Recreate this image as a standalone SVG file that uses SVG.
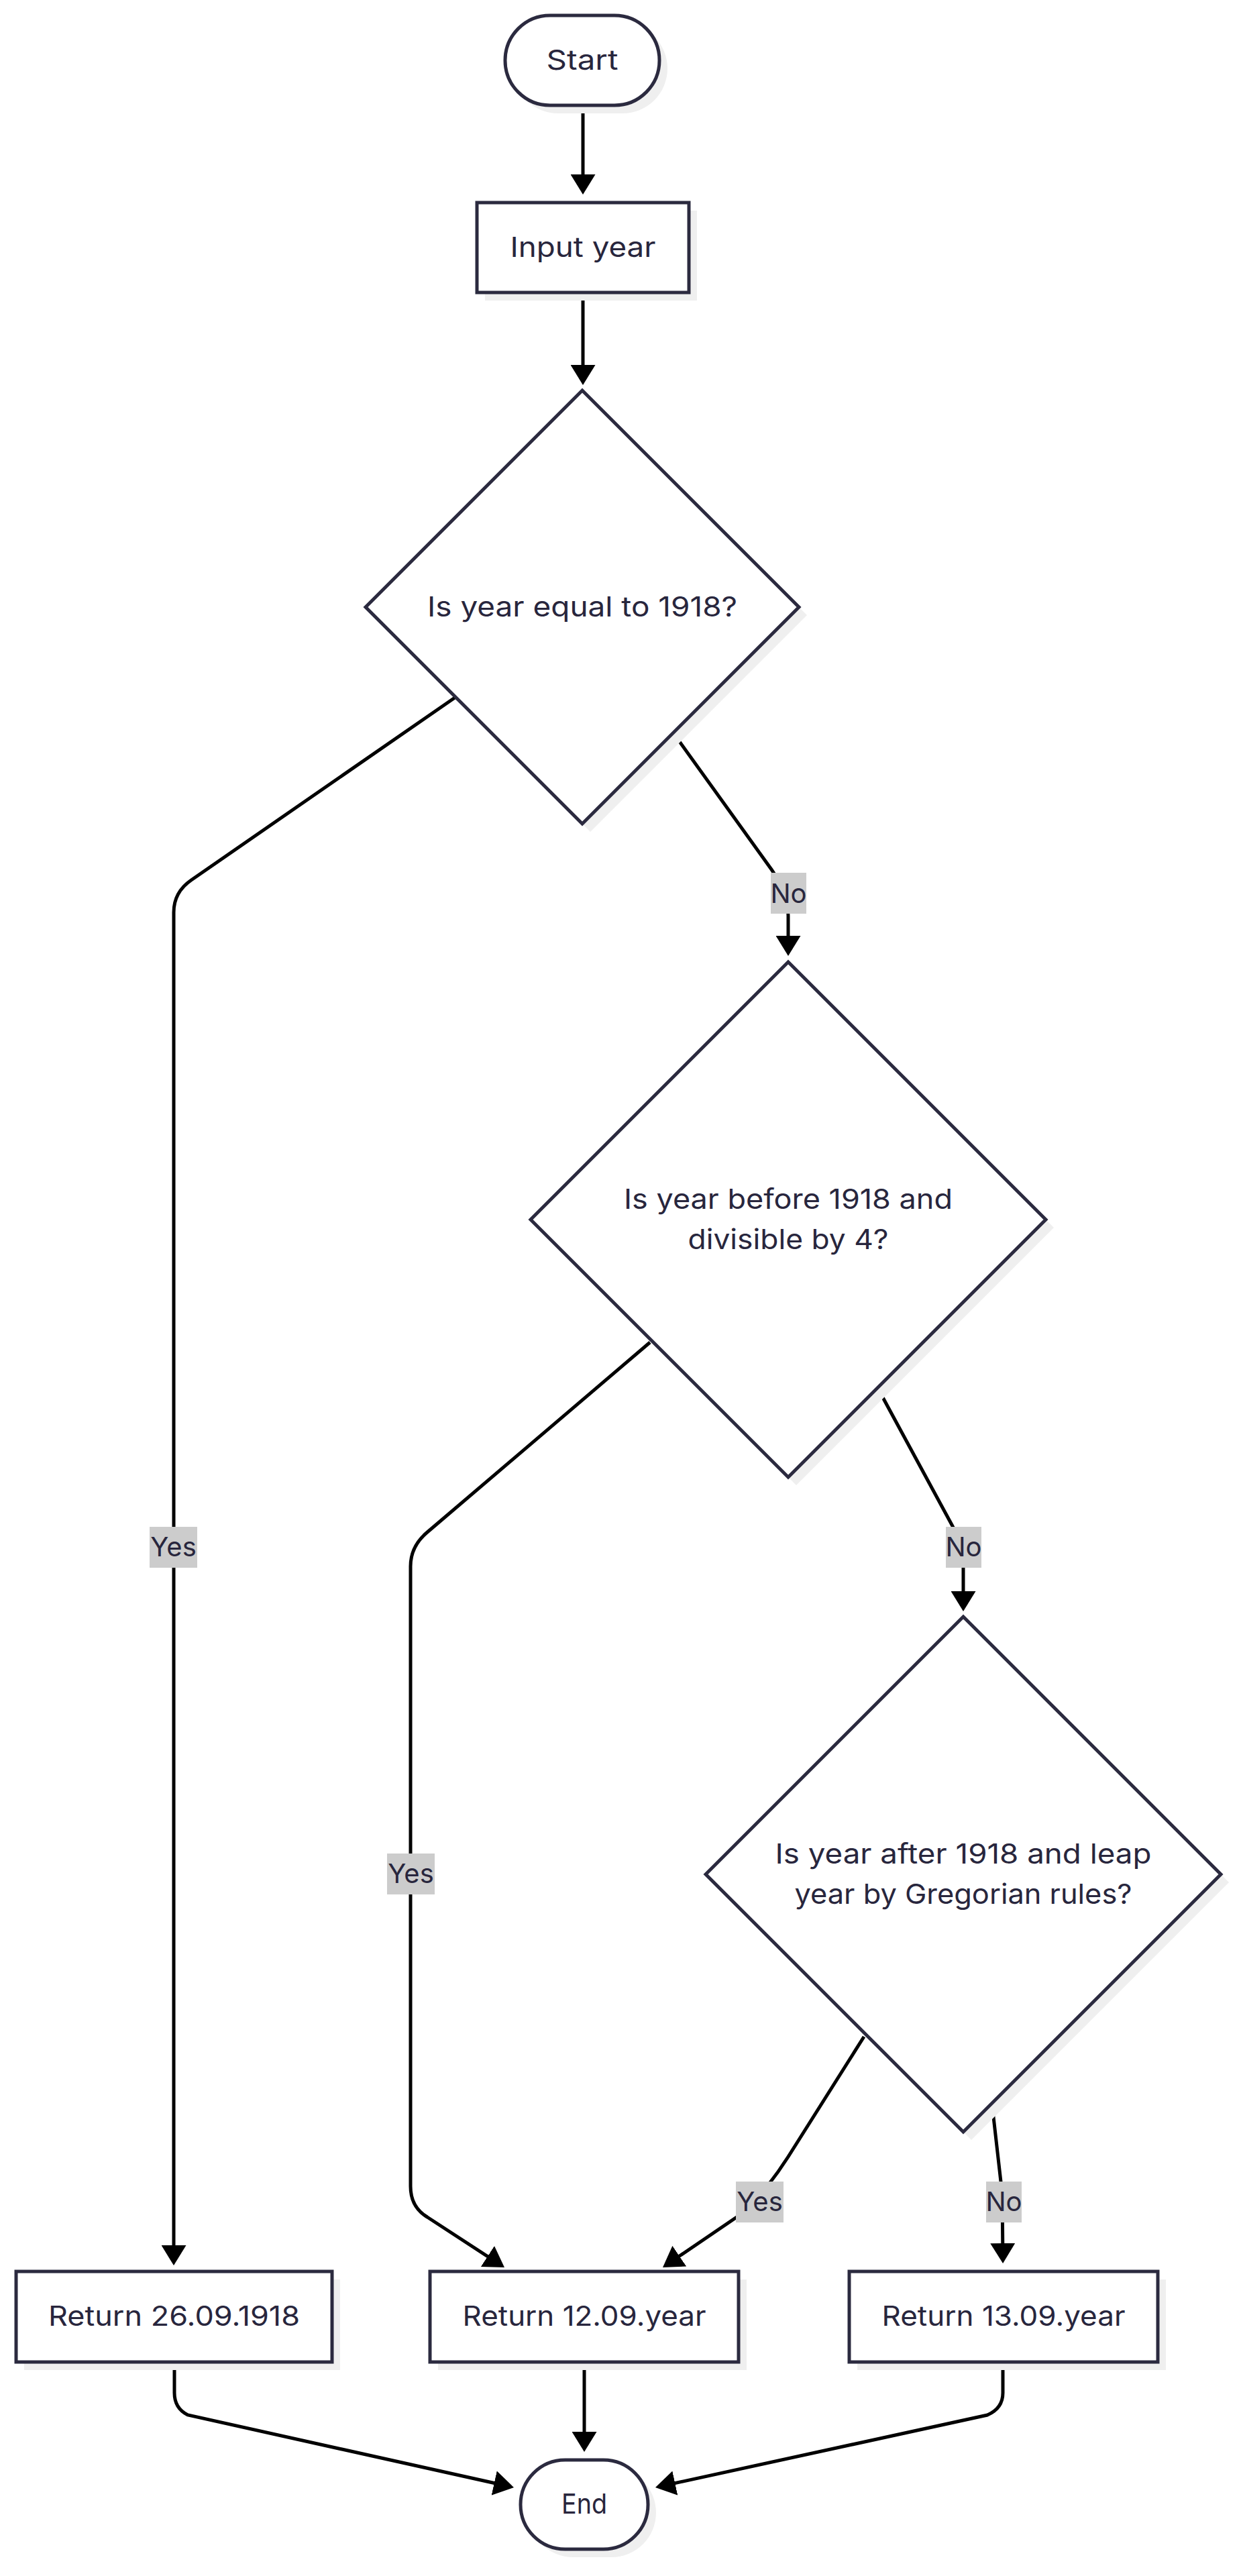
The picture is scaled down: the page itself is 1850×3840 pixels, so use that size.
<svg xmlns="http://www.w3.org/2000/svg" width="1850" height="3840" viewBox="0 0 1850 3840">
<defs>
<marker id="arrow" viewBox="0 0 30 37" refX="22" refY="18.5" markerWidth="30" markerHeight="37" markerUnits="userSpaceOnUse" orient="auto">
<path d="M0,0 L30,18.5 L0,37 z" fill="#000"/>
</marker>
<style>
.shape{fill:#fff;stroke:#2b2a3f;stroke-width:5}
.shadow{fill:#efefef;stroke:none}
.txt{font-family:"Inter","Noto Sans","DejaVu Sans",sans-serif;font-size:40px;fill:#28263d;text-anchor:middle}
.ntxt{font-size:41px}
.edge{fill:none;stroke:#000;stroke-width:5;marker-end:url(#arrow)}
.lbl{fill:#cccccc}
</style>
</defs>
<rect width="1850" height="3840" fill="#fff"/>
<g id="edges">
<path class="edge" d="M869,157 L869,282"/>
<path class="edge" d="M869,436 L869,566"/>
<path class="edge" d="M1004,1093 L1150,1296 Q1175,1332 1175,1365 L1175,1417"/>
<path class="edge" d="M678,1040 L285,1312 Q259,1330 259,1360 L259,3369"/>
<path class="edge" d="M969,2001 L637,2284 Q612,2305 612,2335 L612,3259 Q612,3290 637,3305 L745.3,3375.6"/>
<path class="edge" d="M1310,2072 L1420,2275 Q1436,2300 1436,2330 L1436,2394"/>
<path class="edge" d="M1288,3036 L1175,3215 Q1145,3262 1110,3297 L994.6,3375.5"/>
<path class="edge" d="M1479,3138 L1494,3270 L1495,3366"/>
<path class="edge" d="M260,3521 L260,3567 Q260,3590 280,3600 L758.2,3706.3"/>
<path class="edge" d="M871,3521 L871,3647"/>
<path class="edge" d="M1495,3521 L1495,3567 Q1495,3590 1472,3600 L984.8,3706.3"/>
</g>
<g id="edge-labels">
<g id="label-no-1"><rect class="lbl" x="1149" y="1301" width="53" height="61"/><text class="txt" x="1175.5" y="1346">No</text></g>
<g id="label-yes-1"><rect class="lbl" x="223" y="2276" width="71" height="61"/><text class="txt" x="258.5" y="2320">Yes</text></g>
<g id="label-yes-2"><rect class="lbl" x="577" y="2763" width="71" height="61"/><text class="txt" x="612.5" y="2807">Yes</text></g>
<g id="label-no-2"><rect class="lbl" x="1410" y="2276" width="53" height="61"/><text class="txt" x="1436.5" y="2320">No</text></g>
<g id="label-yes-3"><rect class="lbl" x="1097" y="3252" width="71" height="61"/><text class="txt" x="1132.5" y="3296">Yes</text></g>
<g id="label-no-3"><rect class="lbl" x="1470" y="3252" width="53" height="61"/><text class="txt" x="1496.5" y="3296">No</text></g>
</g>
<g id="start">
<rect class="shadow" x="765" y="35" width="230" height="134" rx="67"/>
<rect class="shape" x="753" y="23" width="230" height="134" rx="67"/>
<text class="txt ntxt" x="868" y="104" textLength="107" lengthAdjust="spacingAndGlyphs">Start</text>
</g>
<g id="input-year">
<rect class="shadow" x="723" y="314" width="316" height="134"/>
<rect class="shape" x="711" y="302" width="316" height="134"/>
<text class="txt ntxt" x="869" y="383" textLength="217" lengthAdjust="spacingAndGlyphs">Input year</text>
</g>
<g id="decision-1918">
<polygon class="shadow" points="880,594 1203,917 880,1240 557,917"/>
<polygon class="shape" points="868,582 1191,905 868,1228 545,905"/>
<text class="txt ntxt" x="868" y="919" textLength="462" lengthAdjust="spacingAndGlyphs">Is year equal to 1918?</text>
</g>
<g id="decision-before">
<polygon class="shadow" points="1187,1446 1571,1830 1187,2214 803,1830"/>
<polygon class="shape" points="1175,1434 1559,1818 1175,2202 791,1818"/>
<text class="txt ntxt" x="1175" y="1802" textLength="490" lengthAdjust="spacingAndGlyphs">Is year before 1918 and</text>
<text class="txt ntxt" x="1175" y="1862" textLength="299" lengthAdjust="spacingAndGlyphs">divisible by 4?</text>
</g>
<g id="decision-after">
<polygon class="shadow" points="1448,2422 1832,2806 1448,3190 1064,2806"/>
<polygon class="shape" points="1436,2410 1820,2794 1436,3178 1052,2794"/>
<text class="txt ntxt" x="1436" y="2778" textLength="561" lengthAdjust="spacingAndGlyphs">Is year after 1918 and leap</text>
<text class="txt ntxt" x="1436" y="2838" textLength="503" lengthAdjust="spacingAndGlyphs">year by Gregorian rules?</text>
</g>
<g id="return-1918">
<rect class="shadow" x="36" y="3398" width="471" height="135"/>
<rect class="shape" x="24" y="3386" width="471" height="135"/>
<text class="txt ntxt" x="259.5" y="3467" textLength="375" lengthAdjust="spacingAndGlyphs">Return 26.09.1918</text>
</g>
<g id="return-12">
<rect class="shadow" x="653" y="3398" width="460" height="135"/>
<rect class="shape" x="641" y="3386" width="460" height="135"/>
<text class="txt ntxt" x="871" y="3467" textLength="363" lengthAdjust="spacingAndGlyphs">Return 12.09.year</text>
</g>
<g id="return-13">
<rect class="shadow" x="1278" y="3398" width="460" height="135"/>
<rect class="shape" x="1266" y="3386" width="460" height="135"/>
<text class="txt ntxt" x="1496" y="3467" textLength="363" lengthAdjust="spacingAndGlyphs">Return 13.09.year</text>
</g>
<g id="end">
<rect class="shadow" x="788" y="3679" width="190" height="133" rx="66.5"/>
<rect class="shape" x="776" y="3667" width="190" height="133" rx="66.5"/>
<text class="txt ntxt" x="871" y="3747" textLength="68" lengthAdjust="spacingAndGlyphs">End</text>
</g>
</svg>
